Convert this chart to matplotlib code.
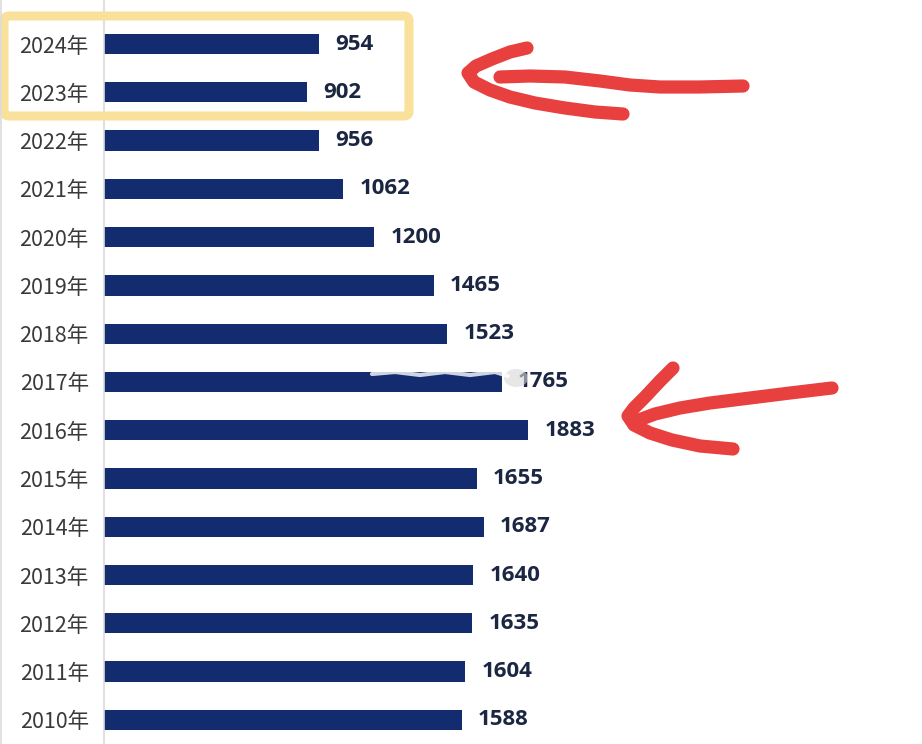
import matplotlib
matplotlib.use("Agg")
import matplotlib.pyplot as plt
from matplotlib.lines import Line2D
from matplotlib.patches import FancyBboxPatch, Ellipse

plt.rcParams["font.family"] = ["Noto Sans CJK SC", "DejaVu Sans"]

years = ["2024年", "2023年", "2022年", "2021年", "2020年", "2019年", "2018年",
         "2017年", "2016年", "2015年", "2014年", "2013年", "2012年", "2011年", "2010年"]
births = [954, 902, 956, 1062, 1200, 1465, 1523, 1765, 1883, 1655, 1687, 1640, 1635, 1604, 1588]

W, H = 922, 744
bar_color = "#132c70"
label_color = "#1b2742"

fig = plt.figure(figsize=(W / 100, H / 100), dpi=100)
fig.patch.set_facecolor("white")
ax = fig.add_axes([104 / W, 0, 1 - 104 / W, 1])

pos = list(range(len(years)))
ax.barh(pos, births, height=0.42, color=bar_color)
for p, v in zip(pos, births):
    ax.text(v + 72, p, str(v), ha="left", va="center", fontsize=16,
            fontweight="bold", color=label_color, family=["Open Sans", "DejaVu Sans"])

ax.set_xlim(0, 3632)
ax.set_ylim(14.5, -0.913)
ax.set_yticks(pos)
ax.set_yticklabels(years, fontsize=15.5, color="#3a3a3a")
ax.tick_params(axis="y", length=0, pad=11)
ax.set_xticks([])
for s in ["top", "right", "bottom"]:
    ax.spines[s].set_visible(False)
ax.spines["left"].set_color("#d9d9d9")
ax.spines["left"].set_linewidth(1.2)


def px(points):
    return [p[0] / W for p in points], [1 - p[1] / H for p in points]


def stroke(points, color="#e8403f", lw=9.5, alpha=1.0):
    xs, ys = px(points)
    fig.add_artist(Line2D(xs, ys, color=color, lw=lw, alpha=alpha,
                          solid_capstyle="round", solid_joinstyle="round"))


# faint left border of the screenshot
stroke([(1, 0), (1, H)], color="#dcdcdc", lw=1.2)

# smudge over the 2017 row
stroke([(372, 374), (395, 372), (420, 375), (445, 372), (470, 375), (495, 372), (508, 376)],
       color="white", lw=3, alpha=0.8)
fig.add_artist(Ellipse((516 / W, 1 - 378 / H), 24 / W, 18 / H,
                       transform=fig.transFigure, color="#d8d8d8", alpha=0.6, lw=0))

# yellow highlight box
box = FancyBboxPatch((4 / W, 1 - 116 / H), 405 / W, 100 / H,
                     boxstyle="round,pad=0,rounding_size=0.006",
                     transform=fig.transFigure, fill=False,
                     edgecolor="#f9e19c", linewidth=6.5)
fig.add_artist(box)

# red arrow, top
stroke([(527, 48), (510, 52), (492, 59), (476, 66), (468, 73), (474, 82), (490, 90),
        (510, 97), (535, 103), (565, 108), (595, 112), (623, 114)])
stroke([(500, 77), (530, 76), (565, 77), (600, 81), (630, 85), (660, 87), (700, 87), (743, 86)])

# red arrow, middle
stroke([(673, 368), (660, 381), (646, 396), (634, 408), (628, 416), (634, 425), (650, 433),
        (672, 440), (700, 446), (733, 449)])
stroke([(636, 421), (655, 414), (680, 408), (710, 403), (750, 398), (790, 393), (832, 388)])

fig.savefig("out.png", dpi=100, facecolor="white")
